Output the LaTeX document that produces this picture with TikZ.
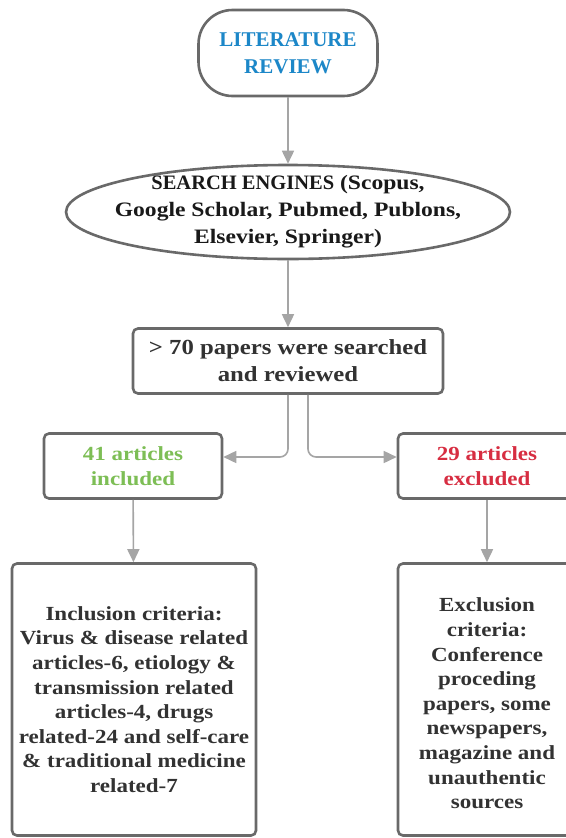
\documentclass[tikz,border=0pt]{standalone}
\usepackage{fontspec}
\setmainfont{Liberation Serif}
\newfontfamily\widefont{Liberation Serif}[FakeStretch=1.15]
\newfontfamily\plainfont{Liberation Serif}
\usetikzlibrary{shapes.geometric,arrows.meta}
\definecolor{bord}{RGB}{105,105,105}
\definecolor{arrc}{RGB}{165,165,165}
\definecolor{txt}{RGB}{50,50,50}
\definecolor{blu}{RGB}{28,135,200}
\definecolor{grn}{RGB}{125,190,85}
\definecolor{rd}{RGB}{215,45,65}
\tikzset{
  box/.style={draw=bord, line width=2.6pt, fill=white, rounded corners=5pt, align=center, inner sep=0pt, text=txt, font=\widefont\bfseries\fontsize{20}{25}\selectfont},
  lbl/.style={align=center, inner sep=0pt, text=txt, font=\widefont\bfseries\fontsize{20}{24.6}\selectfont},
  arr/.style={draw=arrc, line width=1.6pt, -{Triangle[length=13pt,width=12pt]}},
}
\begin{document}
\begin{tikzpicture}[x=1pt,y=-1pt]
\useasboundingbox (0,0) rectangle (565,838);
\fill[white] (0,0) rectangle (565,838);
\node[box, rounded corners=34pt, minimum width=179pt, minimum height=86pt, text=blu, font=\plainfont\bfseries\fontsize{21}{27}\selectfont] (lit) at (288,53) {LITERATURE\\REVIEW};
\node[box, ellipse, minimum width=444pt, minimum height=94pt] (se) at (288,212) {};
\node[lbl, text={rgb,255:red,25;green,25;blue,25}, font=\widefont\bfseries\fontsize{20.5}{27}\selectfont] (setext) at (se.center) {{\plainfont SEARCH ENGINES} (Scopus,\\Google Scholar, Pubmed, Publons,\\Elsevier, Springer)};
\node[box, minimum width=310pt, minimum height=65pt, font=\widefont\bfseries\fontsize{21.5}{27}\selectfont] (pap) at (288,361) {> 70 papers were searched\\and reviewed};
\node[box, minimum width=178pt, minimum height=65pt, text=grn] (inc) at (133,466) {41 articles\\included};
\node[box, minimum width=178pt, minimum height=65pt, text=rd] (exc) at (487,466) {29 articles\\excluded};
\node[box, minimum width=244pt, minimum height=272pt, font=\widefont\bfseries\fontsize{20}{24.6}\selectfont] (incc) at (134,699.5) {Inclusion criteria:\\Virus \& disease related\\articles-6, etiology \&\\transmission related\\articles-4, drugs\\related-24 and self-care\\\& traditional medicine\\related-7};
\node[box, minimum width=178pt, minimum height=272pt] (excc) at (487,699.5) {};
\node[lbl] (exctext) at ([yshift=-4pt]excc.center) {Exclusion\\criteria:\\Conference\\proceding\\papers, some\\newspapers,\\magazine and\\unauthentic\\sources};
\draw[arr] (lit) -- (se);
\draw[arr] (se) -- (pap);
\draw[arr, rounded corners=8pt] (pap.south) |- ([yshift=9pt]inc.east);
\draw[arr, rounded corners=8pt] ([xshift=20pt]pap.south) |- ([yshift=9pt]exc.west);
\draw[arr] (inc) -- (incc);
\draw[arr] (exc) -- (excc);
\end{tikzpicture}
\end{document}
